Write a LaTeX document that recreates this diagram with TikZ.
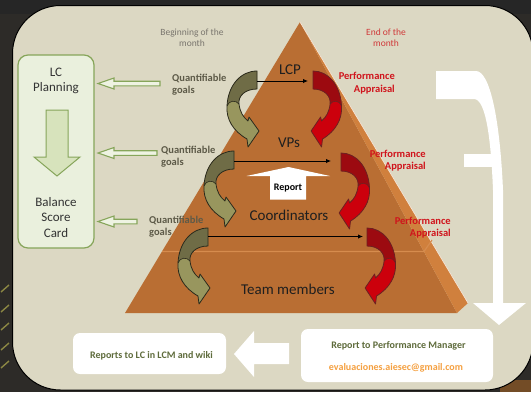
\documentclass[tikz,border=0pt]{standalone}
\usepackage{fontspec}
\setmainfont{Carlito}
\usetikzlibrary{arrows.meta}
\definecolor{bgdark}{HTML}{2D2B28}
\definecolor{panel}{HTML}{DCD8C3}
\definecolor{pyrfront}{HTML}{B96E33}
\definecolor{pyrside}{HTML}{D0803D}
\definecolor{pyrline}{HTML}{D68C4E}
\definecolor{olivelight}{HTML}{98965E}
\definecolor{olivedark}{HTML}{6F6C46}
\definecolor{oliveline}{HTML}{2B2A1C}
\definecolor{redlight}{HTML}{CC000C}
\definecolor{reddark}{HTML}{9C0A10}
\definecolor{redline}{HTML}{6B2222}
\definecolor{qgcol}{HTML}{5D5A48}
\definecolor{pacol}{HTML}{D0141C}
\definecolor{begcol}{HTML}{7A766E}
\definecolor{endcol}{HTML}{D03A3A}
\definecolor{boxgreen}{HTML}{86A55A}
\definecolor{boxfill}{HTML}{EAF0DD}
\definecolor{arrfill}{HTML}{D7E3BC}
\definecolor{hollowfill}{HTML}{EEF3E2}
\definecolor{bottxt}{HTML}{5E6B3B}
\definecolor{mailcol}{HTML}{F5A040}
\tikzset{
  mainlbl/.style={font=\fontsize{15}{17}\selectfont, text=black!88, inner sep=0pt},
  boxlbl/.style={font=\fontsize{13}{15.5}\selectfont, text=black!80, align=center, inner sep=0pt},
  qg/.style={font=\bfseries\fontsize{10.5}{12}\selectfont, text=qgcol, align=left, inner sep=0pt, anchor=west},
  pa/.style={font=\bfseries\fontsize{10.5}{12.5}\selectfont, text=pacol, align=right, inner sep=0pt, anchor=east},
  monthlbl/.style={font=\fontsize{9.5}{11}\selectfont, align=center, inner sep=0pt},
  hollow/.style={draw=boxgreen, fill=hollowfill, line width=1.1pt},
  hline/.style={black, line width=0.9pt, -{Latex[length=5pt,width=4.5pt]}},
  cpath/.style={insert path={(0,0) -- (0,18) .. controls (-12,18) and (-19,25) .. (-18,33) .. controls (-17,41) and (-14,46) .. (-9,50) -- (-8,46) -- (2,60) -- (-9,76) -- (-10,68) .. controls (-24,60) and (-31,48) .. (-30,35) .. controls (-29,14) and (-16,0) .. (0,0) -- cycle}},
  dpath/.style={insert path={(0,0) -- (0,18) .. controls (-12,18) and (-19,25) .. (-18,33) .. controls (-21,29) and (-28,29) .. (-30,35) .. controls (-29,14) and (-16,0) .. (0,0) -- cycle}},
  bottomtxt/.style={font=\bfseries\fontsize{10}{12}\selectfont, text=bottxt, inner sep=0pt},
}
\newcommand\curvearr[5]{%
  \begin{scope}[shift={#1}, xscale=#2]
    \fill[#3, cpath];
    \fill[#4, dpath];
    \draw[#5, line width=0.8pt, line join=round, cpath];
    \draw[#5, line width=0.6pt] (-30,35) .. controls (-28,29) and (-21,29) .. (-18,33);
  \end{scope}}
\newcommand\hollowarr[3]{% y, tip x, body length
  \draw[hollow] (#2,#1) -- ++(16,-5.5) -- ++(0,3.2) -- ++(#3,0) -- ++(0,4.6) -- ++(-#3,0) -- ++(0,3.2) -- cycle;}
\begin{document}
\begin{tikzpicture}[x=1pt,y=-1pt]
\useasboundingbox (0,0) rectangle (531,392);
% background
\fill[bgdark] (0,0) rectangle (531,392);
\fill[black!85] (0,0) rectangle (531,14);
\foreach \yy in {292,312,330,350,368}{
  \draw[yellow!60!white, opacity=0.45, line width=1.4pt] (1,\yy) -- (9,\yy-7);}
\fill[brown!60!black] (500,380) rectangle (531,392);
% panel
\draw[fill=panel, line width=1pt, rounded corners=48pt] (12.5,5.5) rectangle (533,390);
% pyramid
\fill[pyrfront] (300,22) -- (125,313) -- (457,313) -- cycle;
\fill[pyrside] (300,22) -- (468,303) -- (457,313) -- cycle;
\draw[white!80!pyrside, line width=0.7pt] (300,22) -- (468,303);
\draw[pyrline, line width=1.2pt] (162,251.5) -- (424,251.5) -- (432,240);
% top labels
\node[monthlbl, text=begcol] (beg) at (192,37.5) {Beginning of the\\month};
\node[monthlbl, text=endcol] (end) at (386,37.5) {End of the\\month};
% left box
\draw[draw=boxgreen, fill=boxfill, line width=1.2pt, rounded corners=10pt] (18,55) rectangle (94,248);
\node[boxlbl] (lcp) at (56,81) {LC\\Planning};
\node[boxlbl] (bsc) at (56,217.5) {Balance\\Score\\Card};
\draw[draw=boxgreen, fill=arrfill, line width=1pt] (46,110) -- (68,110) -- (68,157) -- (80,157) -- (57,176) -- (34,157) -- (46,157) -- cycle;
% hollow arrows
\hollowarr{83.5}{98}{46}
\hollowarr{153}{98}{43}
\hollowarr{221.5}{98}{23}
% quantifiable goals
\node[qg] (q1) at (172,85) {Quantifiable\\goals};
\node[qg] (q2) at (161,157) {Quantifiable\\goals};
\node[qg] (q3) at (149,226.5) {Quantifiable\\goals};
% performance appraisal
\node[pa] (p1) at (395,83) {Performance\\Appraisal};
\node[pa] (p2) at (426,160.5) {Performance\\Appraisal};
\node[pa] (p3) at (451,227.5) {Performance\\Appraisal};
% report arrow
\fill[white] (288.5,167) -- (330,176) -- (306,176) -- (306,199.5) -- (270,199.5) -- (270,176) -- (246.5,176) -- cycle;
\node[font=\bfseries\fontsize{10}{12}\selectfont, inner sep=0pt] (rep) at (288,188) {Report};
% level labels
\node[mainlbl] (lcpl) at (290,70) {LCP};
\node[mainlbl] (vps) at (289,143) {VPs};
\node[mainlbl] (coord) at (289,215) {Coordinators};
\node[mainlbl] (team) at (288,289) {Team members};
% curved arrows
\curvearr{(257,71)}{1}{olivelight}{olivedark}{oliveline}
\curvearr{(234,151)}{1}{olivelight}{olivedark}{oliveline}
\curvearr{(208,228)}{1}{olivelight}{olivedark}{oliveline}
\curvearr{(313,71)}{-0.95}{redlight}{reddark}{redline}
\curvearr{(341,153)}{-0.95}{redlight}{reddark}{redline}
\curvearr{(367,228)}{-0.95}{redlight}{reddark}{redline}
% horizontal arrows
\coordinate (h1s) at (257,81); \coordinate (h1e) at (308,81);
\coordinate (h2s) at (234,161); \coordinate (h2e) at (331,161);
\coordinate (h3s) at (208,236.5); \coordinate (h3e) at (363,236.5);
\draw[hline] (h1s) -- (h1e);
\draw[hline] (h2s) -- (h2e);
\draw[hline] (h3s) -- (h3e);
% big white arrow on right
\fill[white] (436,71) -- (476,71) .. controls (490,71) and (500,120) .. (503,190) -- (503,303) -- (526,303) -- (499,325) -- (473,303) -- (493,303) -- (493,190) .. controls (491,140) and (486,99) .. (474,99) -- (436,99) -- cycle;
\fill[white] (464,154) rectangle (494,167);
% bottom boxes
\fill[white, rounded corners=7pt] (301,329) rectangle (493,382);
\node[bottomtxt] (rpm) at (398.5,346) {Report to Performance Manager};
\node[font=\bfseries\fontsize{10}{12}\selectfont, text=mailcol, inner sep=0pt] (mail) at (396,368) {evaluaciones.aiesec@gmail.com};
\fill[white, rounded corners=7pt] (73,333) rectangle (226,374);
\node[bottomtxt] (rlc) at (151.5,355.5) {Reports to LC in LCM and wiki};
\fill[white] (234,354) -- (254,331) -- (254,343) -- (289,343) -- (289,364) -- (254,364) -- (254,377) -- cycle;
\end{tikzpicture}
\end{document}
